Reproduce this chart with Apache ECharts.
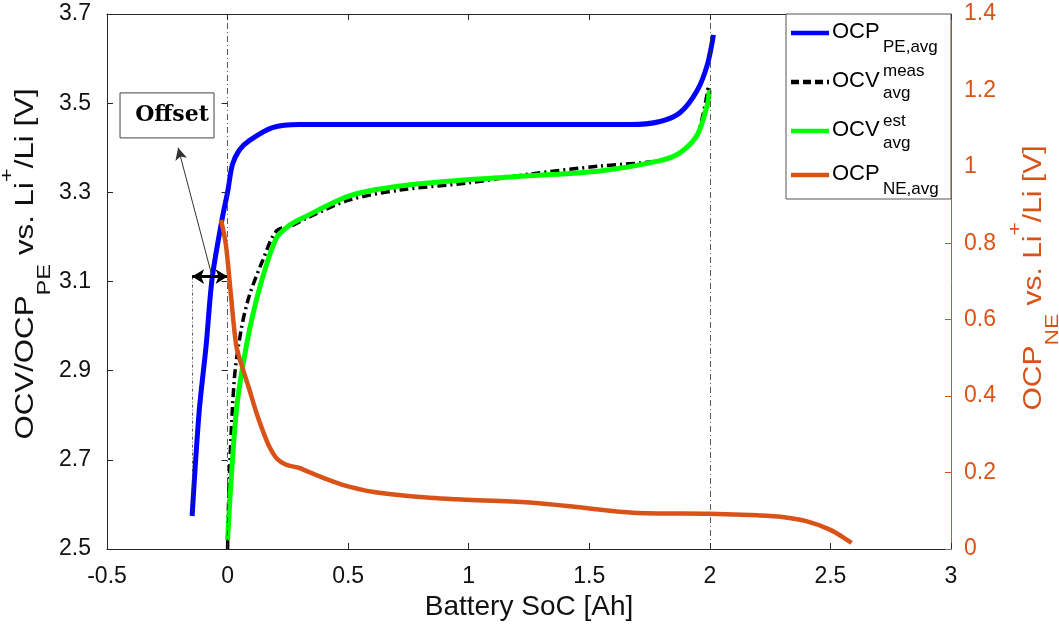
<!DOCTYPE html>
<html>
<head>
<meta charset="utf-8">
<script src="https://cdn.jsdelivr.net/npm/echarts@6/dist/echarts.min.js"></script>
<style>
html,body{margin:0;padding:0;background:#fff;}
#chart{width:1059px;height:628px;}
</style>
</head>
<body>
<div id="chart"></div>
<script>
// axis ranges (min, max, step)
const xRange = [-0.5, 3, 0.5];
const leftRange = [2.5, 3.7, 0.2];
const rightRange = [0, 1.4, 0.2];

// OCP of positive electrode (left axis)
const peX = [-0.147, -0.118, -0.089, -0.064, -0.022, 0.0, 0.020, 0.049, 0.090, 0.186, 0.298, 0.547, 1.0, 1.5, 1.670, 1.794, 1.877, 1.948, 1.990, 2.015];
const peY = [2.574, 2.807, 2.956, 3.107, 3.242, 3.300, 3.362, 3.395, 3.416, 3.445, 3.452, 3.452, 3.452, 3.452, 3.452, 3.459, 3.479, 3.529, 3.587, 3.653];

// measured OCV (left axis)
const measX = [0.0, 0.007, 0.028, 0.057, 0.090, 0.144, 0.202, 0.269, 0.327, 0.506, 0.714, 0.996, 1.254, 1.545, 1.794, 1.877, 1.948, 1.995];
const measY = [2.500, 2.656, 2.881, 2.994, 3.068, 3.145, 3.213, 3.226, 3.242, 3.283, 3.305, 3.321, 3.341, 3.359, 3.371, 3.389, 3.429, 3.542];

// estimated OCV (left axis)
const estX = [0.0, 0.036, 0.078, 0.132, 0.202, 0.256, 0.310, 0.506, 0.714, 0.996, 1.254, 1.545, 1.794, 1.877, 1.948, 1.990, 1.998];
const estY = [2.520, 2.807, 2.956, 3.084, 3.197, 3.226, 3.242, 3.292, 3.314, 3.328, 3.337, 3.348, 3.371, 3.389, 3.429, 3.497, 3.529];

// OCP of negative electrode (right axis)
const neX = [-0.027, -0.007, 0.014, 0.036, 0.060, 0.090, 0.119, 0.144, 0.173, 0.205, 0.242, 0.298, 0.331, 0.394, 0.477, 0.600, 0.784, 0.992, 1.266, 1.474, 1.682, 2.0, 2.2, 2.3, 2.4, 2.5, 2.588];
const neY = [0.861, 0.796, 0.664, 0.532, 0.478, 0.418, 0.358, 0.313, 0.268, 0.236, 0.221, 0.212, 0.203, 0.187, 0.168, 0.150, 0.137, 0.129, 0.121, 0.108, 0.095, 0.092, 0.088, 0.084, 0.073, 0.050, 0.016];

// offset annotation (data coords)
const offY = 3.111;
const offLeft = peX[0];
const pointerFrom = [-0.064, 3.111];
const pointerTo = [-0.205, 3.400];
const boxCorner = [-0.446, 3.523];

const cBlue = '#0000ff', cBlack = '#000000', cGreen = '#00ff00', cOrange = '#d95319', cAxis = '#262626';
const font = '"Liberation Sans", Arial, sans-serif';

const zip = (xs, ys) => xs.map((x, i) => [x, ys[i]]);

const chart = echarts.init(document.getElementById('chart'), null, {renderer: 'canvas'});

const dashDot = {color: '#333', width: 0.8, type: [6, 3, 1, 3]};

const xBase = {
    type: 'value', min: xRange[0], max: xRange[1], interval: xRange[2],
    splitLine: {show: false},
    axisLine: {show: true, onZero: false, lineStyle: {color: cAxis, width: 1}},
    axisTick: {show: true, inside: true, length: 6, lineStyle: {color: cAxis}}
};

chart.setOption({
    animation: false,
    backgroundColor: '#fff',
    grid: {left: 107, right: 108, top: 14, bottom: 79, show: false},
    xAxis: [
        Object.assign({}, xBase, {
            position: 'bottom',
            axisLabel: {fontSize: 23, color: '#111', margin: 16, fontFamily: font},
            name: 'Battery SoC [Ah]', nameLocation: 'middle', nameGap: 40,
            nameTextStyle: {fontSize: 28, color: '#111', fontFamily: font}
        }),
        Object.assign({}, xBase, {position: 'top', axisLabel: {show: false}})
    ],
    yAxis: [
        {
            type: 'value', position: 'left', min: leftRange[0], max: leftRange[1], interval: leftRange[2],
            splitLine: {show: false},
            axisLine: {show: true, onZero: false, lineStyle: {color: cAxis}},
            axisTick: {show: true, inside: true, length: 6, lineStyle: {color: cAxis}},
            axisLabel: {fontSize: 23, color: '#111', margin: 16, fontFamily: font, formatter: v => v.toFixed(1)}
        },
        {
            type: 'value', position: 'right', min: rightRange[0], max: rightRange[1], interval: rightRange[2],
            splitLine: {show: false},
            axisLine: {show: true, onZero: false, lineStyle: {color: cOrange}},
            axisTick: {show: true, inside: true, length: 6, lineStyle: {color: cOrange}},
            axisLabel: {fontSize: 23, color: cOrange, margin: 13, fontFamily: font}
        },
        {
            // mirrored left ticks on right side
            type: 'value', position: 'right', min: leftRange[0], max: leftRange[1], interval: leftRange[2],
            splitLine: {show: false},
            axisLine: {show: false},
            axisTick: {show: true, inside: true, length: 6, lineStyle: {color: cAxis}},
            axisLabel: {show: false}
        }
    ],
    series: [
        {
            name: 'OCP PE,avg', type: 'line', xAxisIndex: 0, yAxisIndex: 0,
            data: zip(peX, peY), showSymbol: false, smooth: 0.3,
            lineStyle: {color: cBlue, width: 5}, z: 2,
            markLine: {
                silent: true, animation: false, symbol: ['none', 'none'],
                label: {show: false},
                emphasis: {disabled: true},
                data: [
                    {xAxis: 0, lineStyle: dashDot},
                    {xAxis: 2, lineStyle: dashDot},
                    [{coord: [offLeft, offY], lineStyle: {color: '#333', width: 0.8, type: [3, 2, 1, 2]}}, {coord: [offLeft, peY[0]]}],
                    [{coord: [offLeft, offY], symbol: 'arrow', symbolSize: [11, 12], lineStyle: {color: '#000', width: 3, type: 'solid'}},
                     {coord: [0, offY], symbol: 'arrow', symbolSize: [11, 12]}],
                    [{coord: pointerFrom, lineStyle: {color: '#333', width: 1, type: 'solid'}},
                     {coord: pointerTo, symbol: 'arrow', symbolSize: [9, 12]}]
                ]
            }
        },
        {
            name: 'OCV meas', type: 'line', xAxisIndex: 0, yAxisIndex: 0,
            data: zip(measX, measY), showSymbol: false, smooth: 0.3,
            lineStyle: {color: cBlack, width: 3.5, type: [9, 4, 2, 4]}, z: 3
        },
        {
            name: 'OCV est', type: 'line', xAxisIndex: 0, yAxisIndex: 0,
            data: zip(estX, estY), showSymbol: false, smooth: 0.3,
            lineStyle: {color: cGreen, width: 5}, z: 4
        },
        {
            name: 'OCP NE,avg', type: 'line', xAxisIndex: 0, yAxisIndex: 1,
            data: zip(neX, neY), showSymbol: false, smooth: 0.3,
            lineStyle: {color: cOrange, width: 4.5}, z: 5
        }
    ]
});

// legend, axis titles and the offset box as graphics
const legendRows = [
    {y: 32, color: cBlue, dash: null, main: 'OCP', sup: null, sub: 'PE,avg', subY: 47},
    {y: 81, color: cBlack, dash: [8, 4], main: 'OCV', sup: 'meas', supY: 71, sub: 'avg', subY: 93},
    {y: 130, color: cGreen, dash: null, main: 'OCV', sup: 'est', supY: 121, sub: 'avg', subY: 143},
    {y: 174, color: cOrange, dash: null, main: 'OCP', sup: null, sub: 'NE,avg', subY: 189}
];

const gfx = [{
    type: 'rect', z: 100,
    shape: {x: 786, y: 14, width: 165, height: 185},
    style: {fill: '#fff', stroke: '#555', lineWidth: 1}
}];
legendRows.forEach(r => {
    gfx.push({
        type: 'line', z: 101,
        shape: {x1: 791, y1: r.y + 1, x2: 829, y2: r.y + 1},
        style: {stroke: r.color, lineWidth: 4.5, lineDash: r.dash}
    });
    gfx.push({
        type: 'text', z: 101, x: 832, y: r.y,
        style: {text: r.main, fontSize: 22, fontFamily: font, fill: '#000', verticalAlign: 'middle'}
    });
    if (r.sup) {
        gfx.push({
            type: 'text', z: 101, x: 883, y: r.supY,
            style: {text: r.sup, fontSize: 17, fontFamily: font, fill: '#000', verticalAlign: 'middle'}
        });
    }
    gfx.push({
        type: 'text', z: 101, x: 883, y: r.subY,
        style: {text: r.sub, fontSize: 17, fontFamily: font, fill: '#000', verticalAlign: 'middle'}
    });
});

const titleRich = (color) => ({
    m: {fontSize: 25, fontFamily: font, fill: color, lineHeight: 56, verticalAlign: 'middle'},
    s: {fontSize: 19, fontFamily: font, fill: color, lineHeight: 19, verticalAlign: 'bottom'},
    p: {fontSize: 19, fontFamily: font, fill: color, lineHeight: 19, verticalAlign: 'top'}
});

gfx.push({
    type: 'text', x: 26, y: 264, rotation: Math.PI / 2, scaleX: 1.25,
    style: {text: '{m|OCV/OCP}{s|PE}{m| vs. Li}{p|+}{m|/Li [V]}', rich: titleRich('#111'),
            align: 'center', verticalAlign: 'middle'}
});
gfx.push({
    type: 'text', x: 1034, y: 278, rotation: Math.PI / 2, scaleX: 1.2,
    style: {text: '{m|OCP}{s|NE}{m| vs. Li}{p|+}{m|/Li [V]}', rich: titleRich(cOrange),
            align: 'center', verticalAlign: 'middle'}
});

const bc = chart.convertToPixel({xAxisIndex: 0, yAxisIndex: 0}, boxCorner);
gfx.push({
    type: 'rect', z: 50,
    shape: {x: bc[0], y: bc[1], width: 94, height: 45},
    style: {fill: '#fff', stroke: '#444', lineWidth: 1}
});
gfx.push({
    type: 'text', z: 51, x: bc[0] + 52, y: bc[1] + 22,
    style: {text: 'Offset', fontSize: 22, fontWeight: 'bold', fontFamily: '"DejaVu Serif", serif',
            fill: '#000', align: 'center', verticalAlign: 'middle'}
});

chart.setOption({graphic: gfx});
</script>
</body>
</html>
